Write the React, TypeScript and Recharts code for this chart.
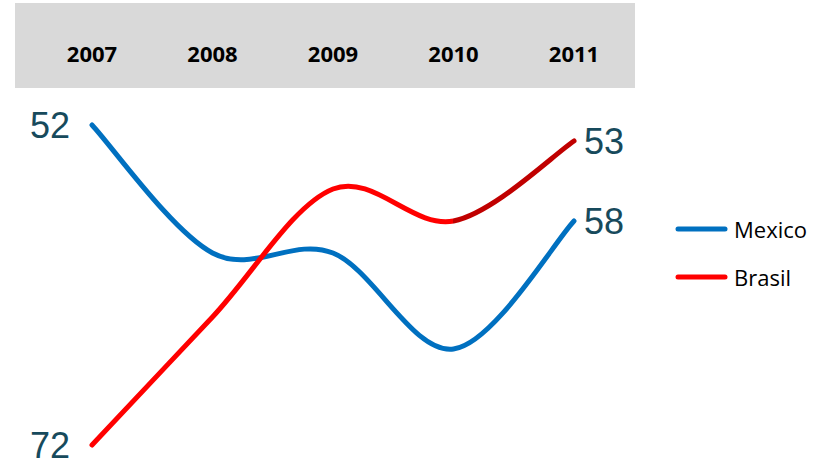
import React from "react";
import { LineChart, Line, XAxis, YAxis, LabelList } from "recharts";

const years = ["2007", "2008", "2009", "2010", "2011"];
const mexico = [52, 60, 60, 66, 58];
const brasil = [72, 64, 56, 58, 53];

const MEXICO_COLOR = "#0070C0";
const BRASIL_COLOR = "#FF0000";
const BRASIL_DARK = "#C00000";
const NUM_COLOR = "#174A5C";

const data = years.map((year, i) => ({ year, Mexico: mexico[i], Brasil: brasil[i] }));

// smooth curve like Excel's "smoothed line" (Catmull-Rom -> bezier)
const excelSmooth = (context: any) => {
  let pts: [number, number][] = [];
  return {
    areaStart() {},
    areaEnd() {},
    lineStart() {
      pts = [];
    },
    point(x: number, y: number) {
      pts.push([+x, +y]);
    },
    lineEnd() {
      if (!pts.length) return;
      context.moveTo(pts[0][0], pts[0][1]);
      for (let i = 0; i < pts.length - 1; i++) {
        const p0 = pts[i - 1] || pts[i];
        const p1 = pts[i];
        const p2 = pts[i + 1];
        const p3 = pts[i + 2] || p2;
        context.bezierCurveTo(
          p1[0] + (p2[0] - p0[0]) / 6,
          p1[1] + (p2[1] - p0[1]) / 6,
          p2[0] - (p3[0] - p1[0]) / 6,
          p2[1] - (p3[1] - p1[1]) / 6,
          p2[0],
          p2[1]
        );
      }
    },
  };
};

// value only at the first and last point
const endLabel = (props: any) => {
  const { x, y, value, index } = props;
  if (index !== 0 && index !== years.length - 1) return null;
  const first = index === 0;
  return (
    <text
      x={first ? x - 22 : x + 10}
      y={y}
      textAnchor={first ? "end" : "start"}
      dominantBaseline="central"
      fontFamily="Liberation Sans, Arial, sans-serif"
      fontSize={36}
      fill={NUM_COLOR}
    >
      {value}
    </text>
  );
};

const legendItems = [
  { name: "Mexico", color: MEXICO_COLOR },
  { name: "Brasil", color: BRASIL_COLOR },
];

export default function App() {
  return (
    <div style={{ position: "absolute", left: 0, top: 0, width: 827, height: 464, background: "#fff" }}>
      <div style={{ position: "absolute", left: 15, top: 3, width: 620, height: 85, background: "#D9D9D9" }} />
      <div style={{ position: "absolute", left: 0, top: 0 }}>
        <LineChart width={827} height={464} data={data} margin={{ top: 55, right: 253, bottom: 19, left: 92 }}>
          <defs>
            <linearGradient id="brasilGrad" x1="0" y1="0" x2="1" y2="0">
              <stop offset="0.749" stopColor={BRASIL_COLOR} />
              <stop offset="0.749" stopColor={BRASIL_DARK} />
            </linearGradient>
          </defs>
          <XAxis
            dataKey="year"
            orientation="top"
            height={70}
            axisLine={false}
            tickLine={false}
            tickSize={0}
            tickMargin={63}
            interval={0}
            tick={{ fontFamily: "Open Sans, sans-serif", fontWeight: 700, fontSize: 22, fill: "#000" }}
          />
          <YAxis hide reversed domain={[52, 72]} />
          <Line
            dataKey="Mexico"
            type={excelSmooth as any}
            stroke={MEXICO_COLOR}
            strokeWidth={5}
            strokeLinecap="round"
            dot={false}
            activeDot={false}
            isAnimationActive={false}
          >
            <LabelList dataKey="Mexico" content={endLabel} />
          </Line>
          <Line
            dataKey="Brasil"
            type={excelSmooth as any}
            stroke="url(#brasilGrad)"
            strokeWidth={5}
            strokeLinecap="round"
            dot={false}
            activeDot={false}
            isAnimationActive={false}
          >
            <LabelList dataKey="Brasil" content={endLabel} />
          </Line>
        </LineChart>
      </div>
      {/* legend */}
      <svg width={160} height={90} style={{ position: "absolute", left: 673, top: 213 }}>
        {legendItems.map((it, i) => (
          <g key={it.name}>
            <line x1={5} x2={52} y1={16 + i * 48} y2={16 + i * 48} stroke={it.color} strokeWidth={5} strokeLinecap="round" />
            <text x={61} y={16 + i * 48} dominantBaseline="central" fontFamily="Open Sans, sans-serif" fontSize={22} fill="#000">
              {it.name}
            </text>
          </g>
        ))}
      </svg>
    </div>
  );
}
